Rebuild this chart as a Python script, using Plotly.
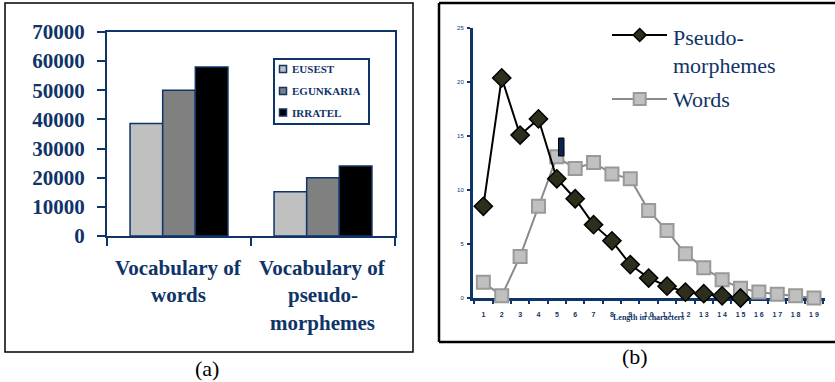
import plotly.graph_objects as go

W, H = 835, 382
def px(x): return x / W
def py(y): return 1 - y / H

NAVY = "#0f3468"
SERIF = "Liberation Serif, Times New Roman, serif"

# ---- Panel (a) data ----
categories_a = ["Vocabulary of words", "Vocabulary of pseudo-morphemes"]
series_names = ["EUSEST", "EGUNKARIA", "IRRATEL"]
series_colors = ["#c0c0c0", "#808080", "#000000"]
eusest = [38600, 15200]
egunkaria = [50000, 20000]
irratel = [58000, 24000]
y_ticks_a = [0, 10000, 20000, 30000, 40000, 50000, 60000, 70000]
y_ticktext_a = ["0", "10000", "20000", "30000", "40000", "50000", "60000", "70000"]

# ---- Panel (b) data ----
lengths = list(range(1, 20))
length_labels = ["1", "2", "3", "4", "5", "6", "7", "8", "9", "1 0", "1 1", "1 2",
                 "1 3", "1 4", "1 5", "1 6", "1 7", "1 8", "1 9"]
pseudo_morphemes = [8.5, 20.4, 15.1, 16.6, 11.05, 9.2, 6.8, 5.3, 3.1, 1.85, 1.1, 0.55, 0.4, 0.2, 0.0]
words = [1.45, 0.2, 3.85, 8.5, 13.1, 12.0, 12.55, 11.5, 11.05, 8.1, 6.25, 4.1, 2.8, 1.7, 0.9, 0.55, 0.35, 0.2, 0.0]
y_ticks_b = [0, 5, 10, 15, 20, 25]

fig = go.Figure()

for name, vals, col in zip(series_names, [eusest, egunkaria, irratel], series_colors):
    fig.add_trace(go.Bar(x=categories_a, y=vals, name=name, marker=dict(color=col, line=dict(color=NAVY, width=1.5)),
                         xaxis="x", yaxis="y", showlegend=False))

fig.add_trace(go.Scatter(x=lengths[:len(words)], y=words, mode="lines+markers", name="Words",
                         line=dict(color="#8a8a8a", width=2),
                         marker=dict(symbol="square", size=13, color="#c0c0c0", line=dict(color="#999999", width=2)),
                         xaxis="x2", yaxis="y2", cliponaxis=False, showlegend=False))
fig.add_trace(go.Scatter(x=lengths[:len(pseudo_morphemes)], y=pseudo_morphemes, mode="lines+markers",
                         name="Pseudo-morphemes",
                         line=dict(color="#000000", width=2),
                         marker=dict(symbol="diamond", size=14, color="#2e2e1c", line=dict(color="#000000", width=1.5)),
                         xaxis="x2", yaxis="y2", cliponaxis=False, showlegend=False))

shapes = []
annotations = []

# panel borders
shapes.append(dict(type="rect", xref="paper", yref="paper", x0=px(5), x1=px(413), y0=py(352), y1=py(3),
                   line=dict(color="black", width=1.5)))
for (x0, y0, x1, y1) in [(439, 3, 840, 3), (439, 3, 439, 342), (439, 342, 840, 342)]:
    shapes.append(dict(type="line", xref="paper", yref="paper", x0=px(x0), x1=px(x1), y0=py(y0), y1=py(y1),
                       line=dict(color="black", width=2.5)))

# category labels (a)
cat_lines = [["Vocabulary of", "words"], ["Vocabulary of", "pseudo-", "morphemes"]]
cat_x = [178.5, 322.5]
line_y = [268, 295, 323]
for cx, lines in zip(cat_x, cat_lines):
    for i, t in enumerate(lines):
        annotations.append(dict(text=t, x=px(cx), y=py(line_y[i]), xref="paper", yref="paper", showarrow=False,
                                xanchor="center", yanchor="middle",
                                font=dict(family=SERIF, size=21, color=NAVY, weight="bold")))

# legend (a)
shapes.append(dict(type="rect", xref="paper", yref="paper", x0=px(274), x1=px(369), y0=py(124), y1=py(59),
                   line=dict(color=NAVY, width=2), fillcolor="white"))
leg_y = [69, 91, 112.5]
for name, col, ly in zip(series_names, series_colors, leg_y):
    shapes.append(dict(type="rect", xref="paper", yref="paper", x0=px(279.5), x1=px(286.5),
                       y0=py(ly + 3.5), y1=py(ly - 3.5), line=dict(color=NAVY, width=1.5), fillcolor=col))
    annotations.append(dict(text=name, x=px(290), y=py(ly), xref="paper", yref="paper", showarrow=False,
                            xanchor="left", yanchor="middle",
                            font=dict(family=SERIF, size=11, color=NAVY, weight="bold")))

# legend (b)
shapes.append(dict(type="line", xref="paper", yref="paper", x0=px(612), x1=px(667), y0=py(35), y1=py(35),
                   line=dict(color="black", width=2)))
cx, cy, r = 639.7, 35, 6.5
shapes.append(dict(type="path", xref="paper", yref="paper",
                   path=f"M {px(cx)},{py(cy - r)} L {px(cx + r)},{py(cy)} L {px(cx)},{py(cy + r)} L {px(cx - r)},{py(cy)} Z",
                   line=dict(color="black", width=1.5), fillcolor="#2e2e1c"))
shapes.append(dict(type="line", xref="paper", yref="paper", x0=px(612), x1=px(667), y0=py(99), y1=py(99),
                   line=dict(color="#8a8a8a", width=2)))
s = 6
shapes.append(dict(type="rect", xref="paper", yref="paper", x0=px(cx - s), x1=px(cx + s), y0=py(99 + s), y1=py(99 - s),
                   line=dict(color="#999999", width=2), fillcolor="#c0c0c0"))
for t, ty in [("Pseudo-", 38), ("morphemes", 65), ("Words", 100)]:
    annotations.append(dict(text=t, x=px(671), y=py(ty), xref="paper", yref="paper", showarrow=False,
                            xanchor="left", yanchor="middle",
                            font=dict(family=SERIF, size=22, color=NAVY)))

# artifact near point 5 in (b)
shapes.append(dict(type="rect", xref="paper", yref="paper", x0=px(558.5), x1=px(564), y0=py(156), y1=py(138),
                   line=dict(color="black", width=1), fillcolor="#0b2450"))

# axis title (b)
annotations.append(dict(text="Length in characters", x=px(648), y=py(317), xref="paper", yref="paper",
                        showarrow=False, xanchor="center", yanchor="middle",
                        font=dict(family=SERIF, size=8, color=NAVY, weight="bold")))

# captions
annotations.append(dict(text="(a)", x=px(207), y=py(368), xref="paper", yref="paper", showarrow=False,
                        xanchor="center", yanchor="middle", font=dict(family=SERIF, size=22, color="black")))
annotations.append(dict(text="(b)", x=px(635), y=py(356), xref="paper", yref="paper", showarrow=False,
                        xanchor="center", yanchor="middle", font=dict(family=SERIF, size=22, color="black")))

fig.update_layout(
    width=W, height=H, autosize=False,
    margin=dict(l=0, r=0, t=0, b=0, pad=0, autoexpand=False),
    paper_bgcolor="white", plot_bgcolor="white",
    barmode="group", bargap=0.32, bargroupgap=0,
    shapes=shapes, annotations=annotations,
    xaxis=dict(domain=[px(107), px(395)], anchor="y", type="category", automargin=False,
               showline=True, linecolor=NAVY, linewidth=2, mirror=True,
               ticks="outside", tickson="boundaries", ticklen=8, tickwidth=2, tickcolor=NAVY,
               showticklabels=False, showgrid=False),
    yaxis=dict(domain=[py(236), py(32)], anchor="x", range=[0, 70000], tickvals=y_ticks_a, ticktext=y_ticktext_a,
               automargin=False,
               showline=True, linecolor=NAVY, linewidth=2, mirror=True,
               ticks="outside", ticklen=8, tickwidth=2, tickcolor=NAVY, ticklabelstandoff=8,
               tickfont=dict(family=SERIF, size=21, color=NAVY, weight="bold"),
               showgrid=False, zeroline=False),
    xaxis2=dict(domain=[px(472.7), px(825)], anchor="y2", range=[0.42, 19.6], automargin=False,
                tickvals=lengths, ticktext=length_labels, ticks="",
                showline=True, linecolor=NAVY, linewidth=2.5, layer="below traces",
                minor=dict(tick0=0.5, dtick=1, ticks="outside", ticklen=3, tickwidth=2, tickcolor=NAVY),
                ticklabelstandoff=8,
                tickfont=dict(family="Liberation Sans, Arial, sans-serif", size=7, color=NAVY, weight="bold"),
                showgrid=False, zeroline=False),
    yaxis2=dict(domain=[py(298), py(28.3)], anchor="x2", range=[0, 25], tickvals=y_ticks_b, automargin=False,
                showline=True, linecolor=NAVY, linewidth=2.5, layer="below traces",
                ticks="outside", ticklen=3, tickwidth=1.5, tickcolor=NAVY, ticklabelstandoff=2,
                tickfont=dict(family="Liberation Sans, Arial, sans-serif", size=6, color=NAVY),
                showgrid=False, zeroline=False),
)

fig.write_html("out.html", config={"displayModeBar": False},
               post_script="document.body.style.margin='0';document.body.style.overflow='hidden';")
